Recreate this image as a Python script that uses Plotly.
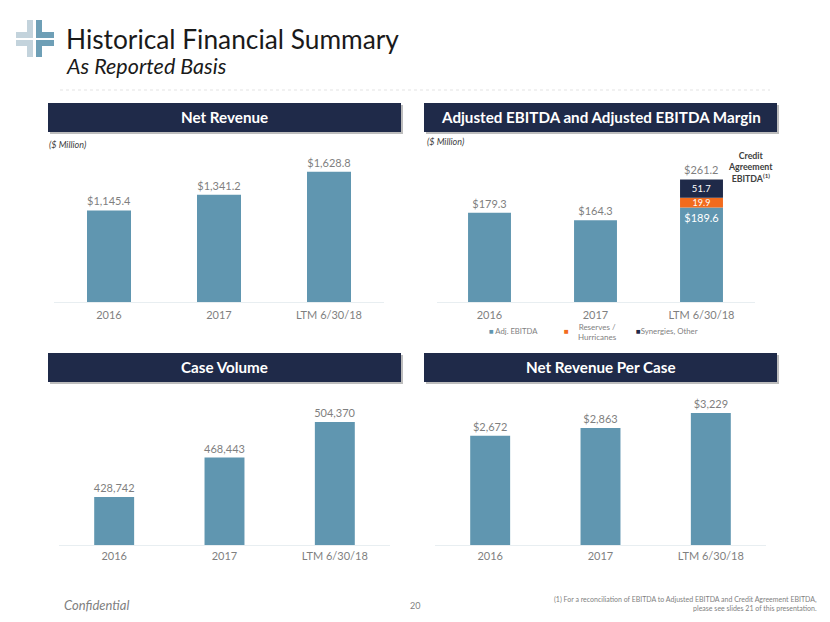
import plotly.graph_objects as go

W, H = 830, 622

years = ["2016", "2017", "LTM 6/30/18"]
net_revenue = [1145.4, 1341.2, 1628.8]
net_revenue_labels = ["$1,145.4", "$1,341.2", "$1,628.8"]
adj_ebitda = [179.3, 164.3, 189.6]
adj_ebitda_labels = ["$179.3", "$164.3", "$189.6"]
stack_period = ["LTM 6/30/18"]
reserves = [19.9]
reserves_labels = ["19.9"]
# The source slide draws the top segment shorter than its printed 51.7; height.
synergies_drawn = [36.5]
synergies_labels = ["51.7"]
credit_total_label = "$261.2"
case_volume = [428742, 468443, 504370]
case_volume_labels = ["428,742", "468,443", "504,370"]
rev_per_case = [2672, 2863, 3229]
rev_per_case_labels = ["$2,672", "$2,863", "$3,229"]

TEAL = "#6096B0"
ORANGE = "#F26B1D"
NAVY = "#1F2A49"
GREY = "#7F7F7F"
FONT = "Lato"


def px(x):
    return x / W


def py(y):
    return 1 - y / H


fig = go.Figure()

panels = [
    dict(xa="x", ya="y", xd=(54, 384), yd=(150, 302), vals=net_revenue, labels=net_revenue_labels,
         width=0.4, yr=(0, 152 / 0.0799), stand=3),
    dict(xa="x2", ya="y2", xd=(436.5, 754.5), yd=(150, 302), vals=adj_ebitda, labels=adj_ebitda_labels,
         width=0.405, yr=(0, 152 / 0.498), stand=3),
    dict(xa="x3", ya="y3", xd=(59, 390), yd=(400, 545), vals=case_volume, labels=case_volume_labels,
         width=0.362, yr=(380350, 380350 + 145 / 0.000992), stand=1),
    dict(xa="x4", ya="y4", xd=(435, 766), yd=(400, 545), vals=rev_per_case, labels=rev_per_case_labels,
         width=0.362, yr=(0, 145 / 0.0409), stand=1),
]

layout_axes = {}
for i, p in enumerate(panels):
    suf = "" if i == 0 else str(i + 1)
    stacked = i == 1
    fig.add_trace(go.Bar(
        x=years, y=p["vals"], xaxis=p["xa"], yaxis=p["ya"], width=p["width"],
        marker=dict(color=TEAL, line=dict(width=0)),
        text=p["labels"],
        textposition=["outside", "outside", "inside"] if stacked else "outside",
        insidetextanchor="end", constraintext="none",
        textfont=dict(family=FONT, size=11, color=["#7F7F7F", "#7F7F7F", "#FFFFFF"] if stacked else GREY),
        cliponaxis=False, showlegend=False, hoverinfo="skip",
    ))
    layout_axes["xaxis" + suf] = dict(
        domain=[px(p["xd"][0]), px(p["xd"][1])], anchor="y" + suf, type="category",
        categoryorder="array", categoryarray=years, range=[-0.5, 2.5],
        showgrid=False, zeroline=False, showline=True, linecolor="#E8EEF1", linewidth=1,
        ticks="", tickfont=dict(family=FONT, size=11, color=GREY), ticklabelstandoff=p["stand"],
    )
    layout_axes["yaxis" + suf] = dict(
        domain=[py(p["yd"][1]), py(p["yd"][0])], anchor="x" + suf, range=list(p["yr"]),
        visible=False, fixedrange=True,
    )

fig.add_trace(go.Bar(
    x=stack_period, y=reserves, xaxis="x2", yaxis="y2", width=0.405, base=[adj_ebitda[2]],
    marker=dict(color=ORANGE, line=dict(width=0)), text=reserves_labels, textposition="inside",
    insidetextanchor="middle", constraintext="none", textfont=dict(family=FONT, size=9, color="#FFFFFF"),
    showlegend=False, hoverinfo="skip",
))
fig.add_trace(go.Bar(
    x=stack_period, y=synergies_drawn, xaxis="x2", yaxis="y2", width=0.405,
    base=[adj_ebitda[2] + reserves[0]],
    marker=dict(color=NAVY, line=dict(width=0)), text=synergies_labels, textposition="inside",
    insidetextanchor="middle", constraintext="none", textfont=dict(family=FONT, size=9.5, color="#FFFFFF"),
    showlegend=False, hoverinfo="skip",
))

shapes = []


def rect(x0, y0, x1, y1, color, layer="below"):
    shapes.append(dict(type="rect", xref="paper", yref="paper", x0=px(x0), x1=px(x1), y0=py(y0), y1=py(y1),
                       fillcolor=color, line=dict(width=0), layer=layer))


# logo: four corner pieces
LIGHT = "#C3D3DC"
LOGO_TEAL = "#6E9FB6"
for r, c in [((27, 20, 33, 38), LIGHT), ((16, 32, 33, 38), LIGHT),
             ((27, 40, 33, 57), LIGHT), ((16, 40, 33, 46), LIGHT),
             ((36, 20, 42, 38), LOGO_TEAL), ((36, 32, 54, 38), LOGO_TEAL),
             ((36, 40, 42, 57), LOGO_TEAL), ((36, 40, 54, 46), LOGO_TEAL)]:
    rect(*r, c)

shapes.append(dict(type="line", xref="paper", yref="paper", x0=px(60), x1=px(770), y0=py(90), y1=py(90),
                   line=dict(color="#E3E3E3", width=1, dash="dot")))

headers = [
    (48, 401, 103, 132, "Net Revenue"),
    (424, 777, 103, 132, "Adjusted EBITDA and Adjusted EBITDA Margin"),
    (48, 401, 353, 382, "Case Volume"),
    (424, 777, 353, 382, "Net Revenue Per Case"),
]
annotations = []


def text(x, y, s, size=11, color=GREY, anchor="center", family=FONT, valign="middle"):
    annotations.append(dict(xref="paper", yref="paper", x=px(x), y=py(y), text=s, showarrow=False,
                            xanchor=anchor, yanchor=valign, align=anchor if anchor != "center" else "center",
                            font=dict(family=family, size=size, color=color)))


for x0, x1, y0, y1, label in headers:
    rect(x0 + 2, y0 + 2, x1 + 2, y1 + 2, "#BDBDBD")
    rect(x0, y0, x1, y1, NAVY)
    text((x0 + x1) / 2, (y0 + y1) / 2 - 0.5, f"<b>{label}</b>", size=15.2, color="#FFFFFF")

text(64, 39.5, "Historical Financial Summary", size=26.3, color="#1A1A1A", anchor="left")
text(64, 65.5, "<i>As Reported Basis</i>", size=21.5, color="#1A1A1A", anchor="left")
text(47, 144, "<i>($ Million)</i>", size=9, color="#404040", anchor="left")
text(425, 141, "<i>($ Million)</i>", size=9, color="#404040", anchor="left")

text(750, 167, "<b>Credit<br>Agreement<br>EBITDA<sup>(1)</sup></b>", size=8.8, color="#404040")

# total label above the stacked bar
annotations.append(dict(xref="x2", yref="y2", x=stack_period[0], y=adj_ebitda[2] + reserves[0] + synergies_drawn[0],
                        text=credit_total_label, showarrow=False, yanchor="bottom", yshift=1,
                        font=dict(family=FONT, size=11, color=GREY)))

# legend
text(487, 331.5, f'<span style="color:{TEAL}">■</span> Adj. EBITDA', size=7.7, anchor="left")
text(562, 331.5, f'<span style="color:{ORANGE}">■</span>', size=8, anchor="left")
text(597, 332, "Reserves /<br>Hurricanes", size=8)
text(634, 331.5, f'<span style="color:{NAVY}">■</span>Synergies, Other', size=7.8, anchor="left")

# footer
text(62, 604.5, "<i>Confidential</i>", size=13, color=GREY, anchor="left")
text(415, 605, "20", size=9, color=GREY)
text(819, 603, "(1) For a reconciliation of EBITDA to Adjusted EBITDA and Credit Agreement EBITDA,<br>"
               "please see slides 21 of this presentation.", size=7, color=GREY, anchor="right")

fig.update_layout(
    width=W, height=H, autosize=False, margin=dict(l=0, r=0, t=0, b=0),
    paper_bgcolor="white", plot_bgcolor="white", barmode="overlay",
    shapes=shapes, annotations=annotations, showlegend=False,
    font=dict(family=FONT), **layout_axes,
)

fig.write_html("out.html", config={"displayModeBar": False},
               post_script="document.body.style.margin='0';document.body.style.overflow='hidden';")
